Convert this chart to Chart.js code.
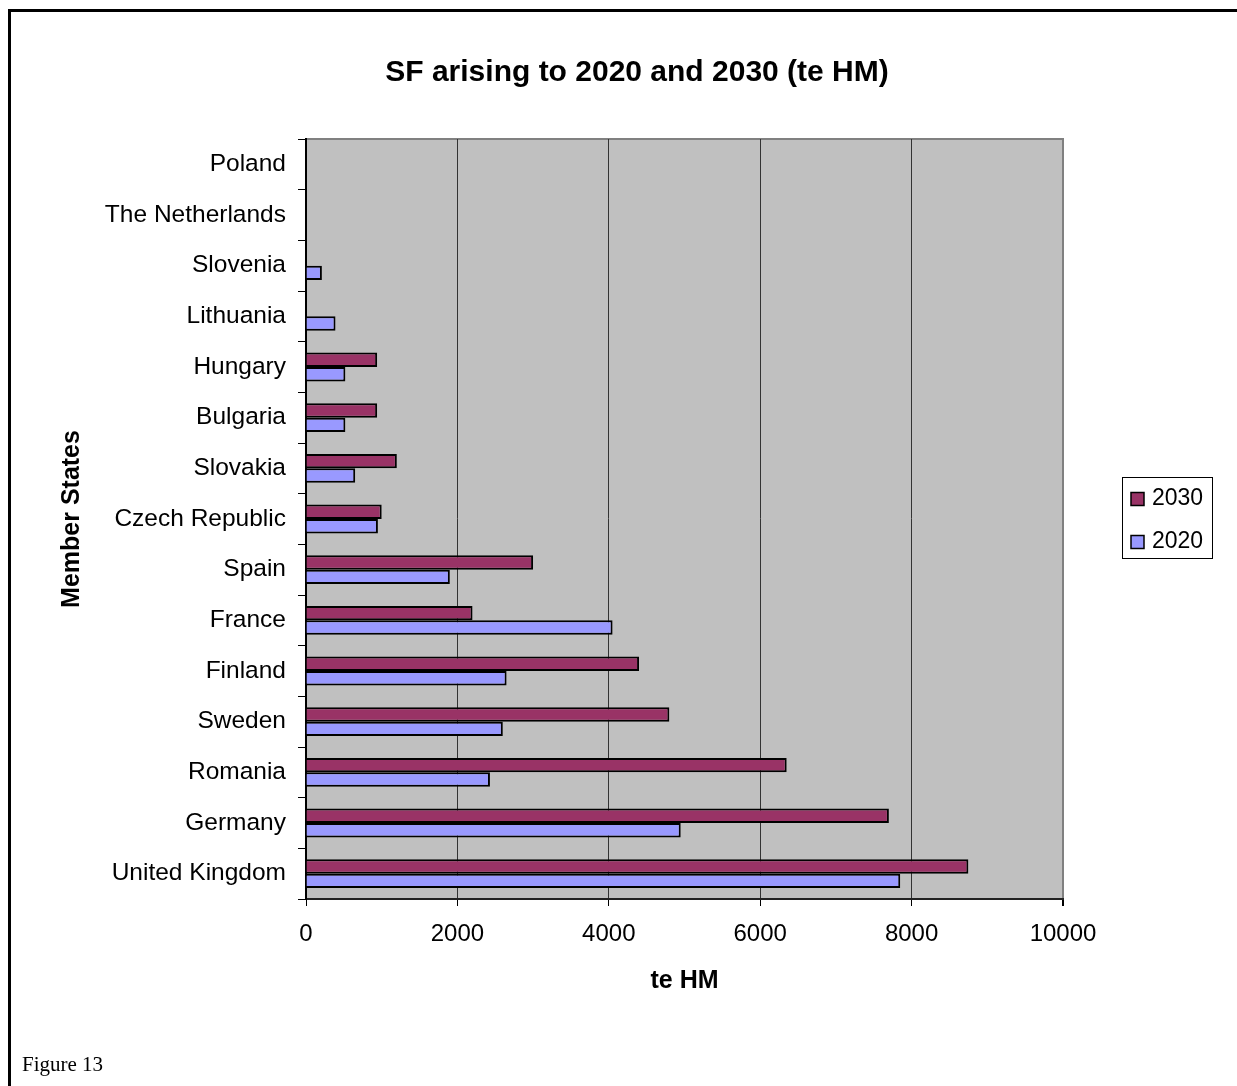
<!DOCTYPE html>
<html>
<head>
<meta charset="utf-8">
<title>SF arising to 2020 and 2030 (te HM)</title>
<script src="https://cdn.jsdelivr.net/npm/chart.js@4.4.1/dist/chart.umd.min.js"></script>
<style>
  html, body { margin: 0; padding: 0; background: #fff; overflow: hidden; }
  #page { position: relative; width: 1237px; height: 1086px; overflow: hidden; }
  #frame { position: absolute; left: 8px; top: 9px; width: 1400px; height: 1200px;
           border-left: 3px solid #000; border-top: 3px solid #000; box-sizing: border-box; }
  #chart { position: absolute; left: 0; top: 0; }
  #caption { position: absolute; left: 22px; top: 1052px; font: 21px "Liberation Serif", "Times New Roman", serif; color: #000; }
</style>
</head>
<body>
<div id="page">
  <div id="frame"></div>
  <canvas id="chart" width="1237" height="1086"></canvas>
  <div id="caption">Figure 13</div>
</div>
<script>
// Member states, listed top to bottom
const memberStates = [
  'Poland', 'The Netherlands', 'Slovenia', 'Lithuania', 'Hungary', 'Bulgaria',
  'Slovakia', 'Czech Republic', 'Spain', 'France', 'Finland', 'Sweden',
  'Romania', 'Germany', 'United Kingdom'
];

// Spent fuel arisings, tonnes heavy metal
const arising2030 = [null, null, null, null, 940, 940, 1200, 1000, 3000, 2200, 4400, 4800, 6350, 7700, 8750];
const arising2020 = [null, null, 210, 390, 520, 520, 650, 950, 1900, 4050, 2650, 2600, 2430, 4950, 7850];

const seriesLabels = ['2030', '2020'];
const valueTicks = [0, 2000, 4000, 6000, 8000, 10000];

const FONT = '"Liberation Sans", Arial, sans-serif';

// Grey plot background with a darker frame on top and right
const plotBackground = {
  id: 'plotBackground',
  beforeDraw(chart) {
    const { ctx, chartArea: a } = chart;
    ctx.save();
    ctx.fillStyle = '#C0C0C0';
    ctx.fillRect(a.left, a.top, a.right - a.left, a.bottom - a.top);
    ctx.strokeStyle = '#808080';
    ctx.lineWidth = 2;
    ctx.beginPath();
    ctx.moveTo(a.left, a.top);
    ctx.lineTo(a.right, a.top);
    ctx.lineTo(a.right, a.bottom);
    ctx.stroke();
    ctx.restore();
  }
};

// Boxed legend to the right of the plot
const boxedLegend = {
  id: 'boxedLegend',
  afterDraw(chart) {
    const { ctx } = chart;
    const box = { x: 1122, y: 477, w: 90, h: 81 };
    ctx.save();
    ctx.fillStyle = '#fff';
    ctx.fillRect(box.x, box.y, box.w, box.h);
    ctx.strokeStyle = '#000';
    ctx.lineWidth = 1;
    ctx.strokeRect(box.x + 0.5, box.y + 0.5, box.w, box.h);
    ctx.font = '23px ' + FONT;
    ctx.textBaseline = 'middle';
    ctx.textAlign = 'left';
    chart.data.datasets.forEach((ds, i) => {
      const cy = 499 + i * 43;
      ctx.fillStyle = ds.backgroundColor;
      ctx.fillRect(1131, cy - 6.5, 13, 13);
      ctx.strokeStyle = '#000';
      ctx.lineWidth = 1.5;
      ctx.strokeRect(1131, cy - 6.5, 13, 13);
      ctx.fillStyle = '#000';
      ctx.fillText(ds.label, 1152, cy);
    });
    ctx.restore();
  }
};

new Chart(document.getElementById('chart'), {
  type: 'bar',
  data: {
    labels: memberStates,
    datasets: [
      { label: seriesLabels[0], data: arising2030, backgroundColor: '#993366', borderColor: '#000', borderWidth: 2 },
      { label: seriesLabels[1], data: arising2020, backgroundColor: '#9999FF', borderColor: '#000', borderWidth: 2 }
    ]
  },
  options: {
    indexAxis: 'y',
    responsive: false,
    devicePixelRatio: 1,
    animation: false,
    layout: { padding: { left: 37, right: 0, top: 0, bottom: 0 } },
    datasets: { bar: { categoryPercentage: 0.57, barPercentage: 1.0 } },
    plugins: {
      legend: { display: false },
      tooltip: { enabled: false },
      title: {
        display: true,
        text: 'SF arising to 2020 and 2030 (te HM)',
        color: '#000',
        font: { family: FONT, size: 30, weight: 'bold', lineHeight: 1.2 },
        padding: { top: 55, bottom: 48 }
      }
    },
    scales: {
      x: {
        type: 'linear',
        position: 'bottom',
        min: valueTicks[0],
        max: valueTicks[valueTicks.length - 1],
        afterBuildTicks(scale) { scale.ticks = valueTicks.map(v => ({ value: v })); },
        afterFit(scale) { scale.height = 187; },
        ticks: {
          color: '#000',
          font: { family: FONT, size: 24 },
          padding: 14,
          maxRotation: 0,
          callback: v => String(v)
        },
        grid: {
          color: ctx => (ctx.tick && ctx.tick.value === 10000 ? '#808080' : '#333333'),
          lineWidth: ctx => (ctx.tick && ctx.tick.value === 10000 ? 2 : 1),
          tickColor: '#000',
          tickLength: 7,
          drawTicks: true
        },
        border: { display: true, color: '#222', width: 2 },
        title: {
          display: true,
          text: 'te HM',
          color: '#000',
          font: { family: FONT, size: 25, weight: 'bold', lineHeight: 1.2 },
          padding: { top: 0, bottom: 90 }
        }
      },
      y: {
        type: 'category',
        position: 'left',
        afterFit(scale) { scale.width = 269; },
        ticks: { color: '#000', font: { family: FONT, size: 24.5 }, padding: 12, autoSkip: false },
        grid: { offset: true, drawOnChartArea: false, drawTicks: true, tickLength: 8, color: '#000', tickColor: '#000' },
        border: { display: true, color: '#000', width: 2 },
        title: {
          display: true,
          text: 'Member States',
          color: '#000',
          font: { family: FONT, size: 25, weight: 'bold', lineHeight: 1.2 },
          padding: { top: 20, bottom: 0 }
        }
      },
      legendSpace: {
        type: 'linear',
        position: 'right',
        display: true,
        afterFit(scale) { scale.width = 174; },
        ticks: { display: false },
        grid: { display: false, drawTicks: false },
        border: { display: false }
      }
    }
  },
  plugins: [plotBackground, boxedLegend]
});
</script>
</body>
</html>
